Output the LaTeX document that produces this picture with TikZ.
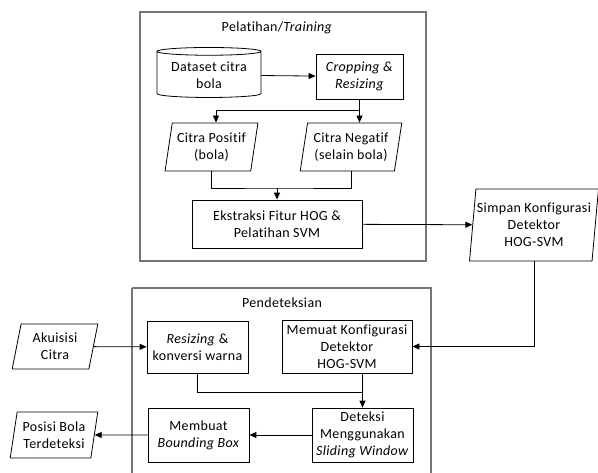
\documentclass[tikz,border=0pt]{standalone}
\usepackage{fontspec}
\setmainfont{Carlito}[Ligatures=NoCommon, LetterSpace=2.5]
\usetikzlibrary{shapes.geometric, arrows.meta, positioning, calc}
\definecolor{framegray}{RGB}{118, 118, 118}

\tikzset{
  stepbox/.style={draw, line width=0.8pt, align=center, inner sep=1pt},
  iobox/.style={trapezium, trapezium left angle=78, trapezium right angle=102,
    trapezium stretches=true, draw, line width=0.8pt, align=center, inner sep=1pt},
  database/.style={cylinder, shape border rotate=90, aspect=0.1, draw,
    line width=0.8pt, align=center, inner sep=1pt},
  frame/.style={draw=framegray, line width=1.3pt},
  flow/.style={line width=0.8pt, -{Triangle[length=7pt, width=6pt]}},
  link/.style={line width=0.8pt},
}

\begin{document}
\begin{tikzpicture}[x=1pt, y=-1pt, font=\fontsize{14}{17}\selectfont]
  \useasboundingbox (0, 0) rectangle (598, 472);

  % Pelatihan
  \draw[frame] (140, 12) rectangle (426, 261);
  \node (trainlbl) at (277, 28) {Pelatihan/\textit{Training}};
  \node[database, minimum width=104pt, minimum height=50pt] (dataset) at (209, 75) {Dataset citra\\bola};
  \node[stepbox, minimum width=87pt, minimum height=45pt] (crop) at (359.5, 76.5) {\textit{Cropping \&}\\\textit{Resizing}};
  \node[iobox, minimum width=93pt, minimum height=48pt] (positif) at (211.5, 147) {Citra Positif\\(bola)};
  \node[iobox, minimum width=102pt, minimum height=48pt] (negatif) at (351, 147) {Citra Negatif\\(selain bola)};
  \node[stepbox, minimum width=170pt, minimum height=48pt] (hog) at (277, 224) {Ekstraksi Fitur HOG \&\\Pelatihan SVM};
  \coordinate (merge) at (277, 188);

  \draw[flow] (dataset) -- (crop);
  \draw[flow] (crop.south) -- ++(0, 11) -| ([xshift=4.5pt]positif.north);
  \draw[flow] (crop.south) -- (crop.south |- negatif.north);
  \draw[link] (positif.south) |- (merge) -| (negatif.south);
  \draw[flow] (merge) -- (hog.north);

  % Simpan
  \node[iobox, trapezium left angle=82, trapezium right angle=98,
    minimum width=128pt, minimum height=72pt] (simpan) at (534, 225) {Simpan Konfigurasi\\Detektor\\HOG-SVM};
  \draw[flow] (hog) -- (simpan);

  % Pendeteksian
  \draw[frame] (132, 288) -- (132, 476) (431, 476) -- (431, 288) -- (132, 288);
  \node (detlbl) at (282, 303) {Pendeteksian};
  \node[iobox, minimum width=86pt, minimum height=45pt] (akuisisi) at (55, 346.5) {Akuisisi\\Citra};
  \node[stepbox, minimum width=101pt, minimum height=52pt] (resize) at (197.5, 347) {\textit{Resizing} \&\\konversi warna};
  \node[stepbox, minimum width=130pt, minimum height=53pt] (muat) at (347, 346.5) {Memuat Konfigurasi\\Detektor\\HOG-SVM};
  \node[stepbox, minimum width=101pt, minimum height=54pt] (deteksi) at (362.5, 435) {Deteksi\\Menggunakan\\\textit{Sliding Window}};
  \node[stepbox, minimum width=101pt, minimum height=54pt] (bbox) at (198.5, 435) {Membuat\\\textit{Bounding Box}};
  \node[iobox, minimum width=88pt, minimum height=46pt] (posisi) at (54, 435) {Posisi Bola\\Terdeteksi};
  \coordinate (join) at (362.5, 392);

  \draw[flow] (simpan.south) |- (muat.east);
  \draw[flow] (akuisisi) -- (resize);
  \draw[link] (resize.south) |- (join);
  \draw[flow] (muat.south -| deteksi.north) -- (deteksi.north);
  \draw[flow] (deteksi) -- (bbox);
  \draw[flow] (bbox) -- (posisi);
\end{tikzpicture}
\end{document}
